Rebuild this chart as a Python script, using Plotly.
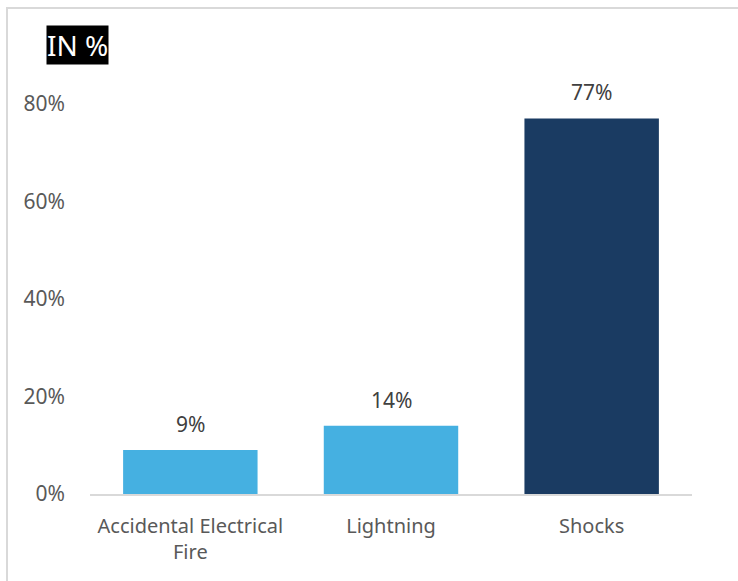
import plotly.graph_objects as go

categories = ["Accidental Electrical<br>Fire", "Lightning", "Shocks"]
values = [0.09, 0.14, 0.77]
labels = ["9%", "14%", "77%"]
colors = ["#45B0E1", "#45B0E1", "#1A3B62"]
y_ticks = [0, 0.2, 0.4, 0.6, 0.8]

W, H = 738, 581
ml, mr, mt, mb = 90, 46, 55, 87
pw, ph = W - ml - mr, H - mt - mb

fig = go.Figure(go.Bar(x=categories, y=values, marker=dict(color=colors, line=dict(width=0)),
                       hoverinfo="skip"))

for c, v, t in zip(categories, values, labels):
    fig.add_annotation(x=c, y=v, text=t, showarrow=False, yanchor="bottom", yshift=10,
                       font=dict(size=21, color="#404040", family="Noto Sans"))

fig.add_annotation(xref="paper", yref="paper", x=(46 - ml) / pw, y=(H - mb - 45) / ph,
                   xanchor="left", yanchor="middle", text="IN %", showarrow=False,
                   bgcolor="black", borderpad=0,
                   font=dict(size=28, color="white", family="Noto Sans"))

fig.add_shape(type="rect", xref="paper", yref="paper",
              x0=(7 - ml) / pw, x1=(W + 20 - ml) / pw,
              y0=(H - mb - (H + 20)) / ph, y1=(H - mb - 8) / ph,
              line=dict(color="#D9D9D9", width=2), fillcolor="rgba(0,0,0,0)", layer="below")

fig.update_layout(
    width=W, height=H,
    margin=dict(l=ml, r=mr, t=mt, b=mb),
    paper_bgcolor="white", plot_bgcolor="white",
    bargap=0.33, showlegend=False,
    font=dict(family="Noto Sans", color="#595959", size=20),
    xaxis=dict(showline=True, linecolor="#D9D9D9", linewidth=2, ticks="", showgrid=False,
               ticklabelstandoff=13,
               tickfont=dict(size=20, color="#595959")),
    yaxis=dict(range=[0, 0.9], tickvals=y_ticks, tickformat=".0%", showgrid=False,
               zeroline=False, showline=False, ticks="", ticklabelstandoff=24,
               tickfont=dict(size=21, color="#595959")),
)

fig.write_html("out.html")
